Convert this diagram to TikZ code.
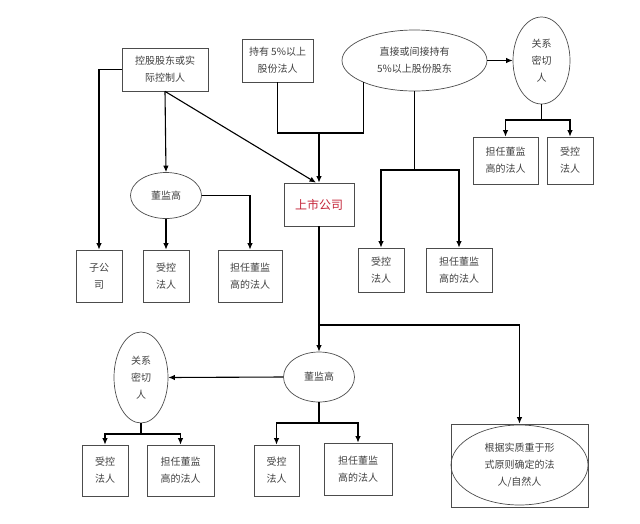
\documentclass[tikz,border=0pt]{standalone}
\usepackage{fontspec}
\newfontfamily\cjk{Noto Sans CJK SC}
\usepackage{tikz}
\usetikzlibrary{arrows,arrows.meta,shapes,calc,positioning}
\definecolor{lcred}{RGB}{196,36,56}
\tikzstyle{edge}  =[>={Latex[length=6.5pt,width=5.5pt]}, line width=1.1pt]
\tikzstyle{box}   =[draw=black!70, rectangle, line width=0.7pt, align=center,
                    inner sep=0pt]
\tikzstyle{oval}  =[draw=black!70, ellipse, line width=0.7pt, align=center,
                    inner sep=0pt]
\begin{document}
\begin{tikzpicture}[x=1pt, y=-1pt, every node/.style = {font=\cjk\fontsize{10}{17}\selectfont,
            text=black!75}]
\useasboundingbox (0,0) rectangle (640,523);
% top row
\node (ctrl) [box, minimum width=86pt, minimum height=43pt] at (165,69.5) {控股股东或实\\际控制人};
\node (hold5) [box, minimum width=71pt, minimum height=43pt] at (277.5,60.5) {持有 5\%以上\\股份法人};
\node (sh) [oval, minimum width=145pt, minimum height=61pt] at (414.5,60.5) {直接或间接持有\\5\%以上股份股东};
\node (clA) [oval, minimum width=57pt, minimum height=87pt] at (541.5,60.5) {关系\\密切\\人};
\node (clAd) [box, minimum width=65pt, minimum height=47pt] at (505.5,160.5) {担任董监\\高的法人};
\node (clAc) [box, minimum width=46pt, minimum height=47pt] at (570,160.5) {受控\\法人};
\node (shc) [box, minimum width=46pt, minimum height=44pt] at (381,270) {受控\\法人};
\node (shd) [box, minimum width=66pt, minimum height=44pt] at (459,270) {担任董监\\高的法人};
% controller side
\node (ctrlE) [oval, minimum width=71pt, minimum height=46pt] at (166,195.5) {董监高};
\node (sub) [box, minimum width=46pt, minimum height=52pt] at (99,276) {子公\\司};
\node (ctrlC) [box, minimum width=46pt, minimum height=52pt] at (166,276) {受控\\法人};
\node (ctrlD) [box, minimum width=64pt, minimum height=52pt] at (250,276) {担任董监\\高的法人};
\node (lc) [box, minimum width=70pt, minimum height=43pt, text=lcred,
            font=\cjk\fontsize{12}{14}\selectfont] at (319,204.5) {上市公司};
% bottom part
\node (lcE) [oval, minimum width=71pt, minimum height=50pt] at (319,377) {董监高};
\node (clB) [oval, minimum width=54pt, minimum height=91pt] at (141,377.5) {关系\\密切\\人};
\node (clBc) [box, minimum width=46pt, minimum height=51pt] at (105,470.5) {受控\\法人};
\node (clBd) [box, minimum width=67pt, minimum height=51pt] at (180.5,470.5) {担任董监\\高的法人};
\node (lcc) [box, minimum width=45pt, minimum height=51pt] at (276.5,470.5) {受控\\法人};
\node (lcd) [box, minimum width=68pt, minimum height=52pt] at (358,469) {担任董监\\高的法人};
\node (subst) [box, minimum width=137pt, minimum height=83pt] at (519.5,465.5) {};
\node (substE) [oval, minimum width=137pt, minimum height=80pt] at (519.5,465) {根据实质重于形\\式原则确定的法\\人/自然人};
% junctions
\coordinate (j1) at (319,133);
\coordinate (j2) at (414.5,170);
\coordinate (j3) at (541.5,120);
\coordinate (j4) at (319,325);
\coordinate (j5) at (319,423);
\coordinate (j6) at (141,434);
% connectors
\draw [edge,->] (ctrl.south) -- (ctrlE.north);
\draw [edge,->] (ctrl.south) -- ($(lc.north)+(-3,0)$);
\draw [edge,->] (ctrl.west) -| (sub.north);
\draw [edge,->] (ctrlE.south) -- (ctrlC.north);
\draw [edge,->] (ctrlE.east) -| (ctrlD.north);
\draw [edge] (hold5.south) |- (j1);
\draw [edge] (sh.203) |- (j1);
\draw [edge,->] (j1) -- (lc.north);
\draw [edge,->] (sh.east) -- (clA.west);
\draw [edge] (sh.south) -- (j2);
\foreach \t in {shc,shd} { \draw [edge,->] (j2) -| (\t.north); }
\draw [edge] (clA.south) -- (j3);
\foreach \t in {clAd,clAc} { \draw [edge,->] (j3) -| (\t.north); }
\draw [edge,->] (lc.south) -- (lcE.north);
\draw [edge,->] (j4) -| (subst.north);
\draw [edge,->] (lcE.west) -- (clB.east);
\draw [edge] (lcE.south) -- (j5);
\foreach \t in {lcc,lcd} { \draw [edge,->] (j5) -| (\t.north); }
\draw [edge] (clB.south) -- (j6);
\foreach \t in {clBc,clBd} { \draw [edge,->] (j6) -| (\t.north); }
\end{tikzpicture}
\end{document}
